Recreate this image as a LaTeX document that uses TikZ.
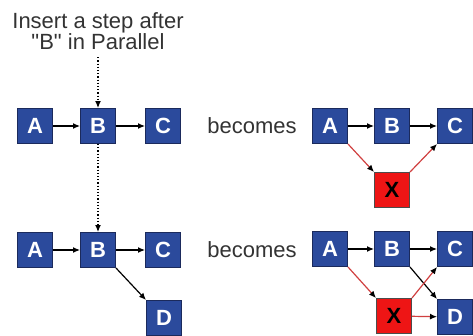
\documentclass[tikz,border=0pt]{standalone}
\usepackage{fontspec}
\setmainfont{Liberation Sans}[Ligatures=TeXOff]
\usetikzlibrary{arrows.meta, positioning}
\definecolor{boxblue}{HTML}{2B4A9C}
\definecolor{boxedge}{HTML}{1B2A5C}
\definecolor{boxred}{HTML}{EE1515}
\definecolor{linered}{HTML}{D04040}
\definecolor{textgray}{HTML}{333333}

\tikzset{
  box/.style={draw=boxedge, fill=boxblue, line width=1pt, minimum size=35pt,
    inner sep=0pt, text=white, font=\fontsize{22}{22}\selectfont\bfseries},
  redbox/.style={box, fill=boxred, draw=black!70, text=black},
  word/.style={text=textgray, font=\fontsize{22}{22}\selectfont},
  flow/.style={-{Latex[length=7pt,width=6pt]}, line width=1.2pt},
  redflow/.style={flow, draw=linered, -{Latex[length=7pt,width=6pt,color=black]}},
  dotflow/.style={-{Latex[length=7pt,width=6pt]}, line width=1.2pt, dotted}
}

\begin{document}
\begin{tikzpicture}[x=1pt, y=-1pt]
\useasboundingbox (0,0) rectangle (473,335);

\node[word, align=center] (note) at (98,31)
  {Insert a step after\\[-1pt]"B" in Parallel};

% left, top row
\node[box] (a1) at (35,126) {A};
\node[box] (b1) at (98,126) {B};
\node[box] (c1) at (163,126) {C};
\draw[flow] (a1) -- (b1);
\draw[flow] (b1) -- (c1);

% left, bottom row
\node[box] (a2) at (35,250) {A};
\node[box] (b2) at (98,250) {B};
\node[box] (c2) at (163,250) {C};
\node[box] (d2) at (164,318) {D};
\draw[flow] (a2) -- (b2);
\draw[flow] (b2) -- (c2);
\draw[flow] (b2.south east) -- (d2.north west);

\draw[dotflow] (note.south) ++(0,-4pt) coordinate (n1) -- (b1.north);
\draw[dotflow] (b1.south) -- (b2.north);

\node[word] (w1) at (252,126) {becomes};
\node[word] (w2) at (252,250) {becomes};

% right, top row
\node[box] (a3) at (330,126) {A};
\node[box] (b3) at (392,126) {B};
\node[box] (c3) at (455,126) {C};
\node[redbox] (x3) at (392,190) {X};
\draw[flow] (a3) -- (b3);
\draw[flow] (b3) -- (c3);
\draw[redflow] (a3.south east) -- (x3.north west);
\draw[redflow] (x3.north east) -- (c3.south west);

% right, bottom row
\node[box] (a4) at (330,249) {A};
\node[box] (b4) at (392,249) {B};
\node[box] (c4) at (455,249) {C};
\node[redbox] (x4) at (394,316) {X};
\node[box] (d4) at (455,317) {D};
\draw[flow] (a4) -- (b4);
\draw[flow] (b4) -- (c4);
\draw[flow] (b4.south east) -- (d4.north west);
\draw[redflow] (a4.south east) -- (x4.north west);
\draw[redflow] (x4.north east) -- (c4.south west);
\draw[redflow] (x4) -- (d4);
\end{tikzpicture}
\end{document}
